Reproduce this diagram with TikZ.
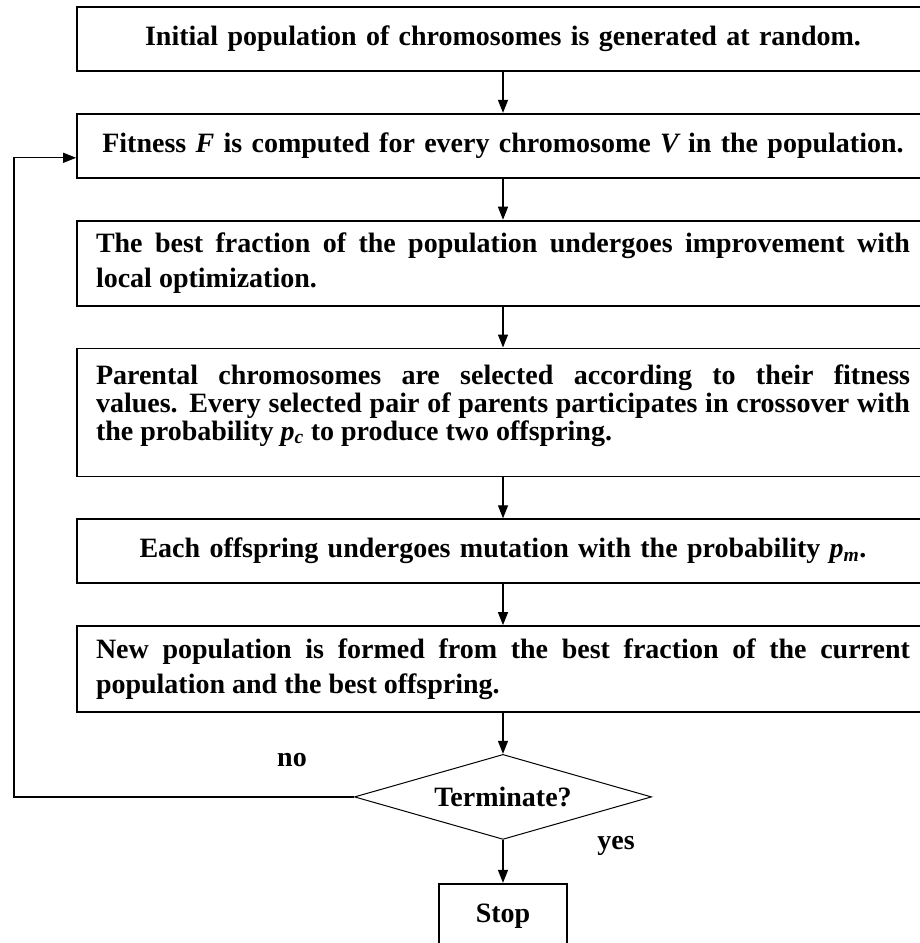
\documentclass[tikz,border=0pt]{standalone}
\usepackage{fontspec}
\setmainfont{Liberation Serif}
\usetikzlibrary{arrows.meta,positioning,shapes.geometric}

\begin{document}
\begin{tikzpicture}[->, >={Triangle[length=13pt,width=10pt]}, line width=1.3pt, node distance=41pt, font=\fontsize{28}{30}\selectfont\bfseries]
		\tikzstyle{stage}=[draw,line width=1.8pt,text width=814pt,inner xsep=19pt,minimum height=64pt,align=center]
		\tikzstyle{long stage}=[stage,align=justify]
		\useasboundingbox (0pt,0pt) rectangle (920pt,-943pt);
		\node[stage]    (init) at (503pt,-39pt)   {Initial population of chromosomes is generated at random.};
		\node[stage]    (fitness)[below = of init]   {Fitness {\itshape F} is computed for every chromosome {\itshape V} in the population.};
		\node[long stage,minimum height=85pt,font=\fontsize{28}{35}\selectfont\bfseries]    (improve)[below = of fitness]   {The best fraction of the population undergoes improvement with\linebreak local optimization.};
		\node[long stage,minimum height=128pt,text depth=76pt,font=\fontsize{28}{28}\selectfont\bfseries]    (select)[below = of improve]   {Parental chromosomes are selected according to their fitness\linebreak values. Every selected pair of parents participates in crossover with\linebreak the probability {\itshape p}\textsubscript{\itshape c} to produce two offspring.};
		\node[stage]    (mutate)[below = of select]   {Each offspring undergoes mutation with the probability {\itshape p}\textsubscript{\itshape m}.};
		\node[long stage,minimum height=86pt,font=\fontsize{28}{35}\selectfont\bfseries]    (newpop)[below = of mutate]   {New population is formed from the best fraction of the current\linebreak population and the best offspring.};
		\node[draw,diamond,aspect=3.5,line width=1pt,inner sep=0pt,minimum width=297pt,minimum height=85pt]    (term)[below = of newpop]   {Terminate?};
		\node[draw,line width=1.8pt,minimum width=128pt,minimum height=64pt]    (stop)[below = 43pt of term]   {Stop};
		\node    (no) at (292pt,-760pt)   {no};
		\node    (yes) at (616pt,-846pt)   {yes};
		\coordinate    (back) at (14pt,-796pt);
		\path
		(init) edge (fitness)
		(fitness) edge (improve)
		(improve) edge (select)
		(select) edge (mutate)
		(mutate) edge (newpop)
		(newpop) edge (term)
		(term) edge (stop);
		\draw (term.west) -- (term.west -| back) |- ([yshift=-12pt]fitness.west);
	\end{tikzpicture}
\end{document}
